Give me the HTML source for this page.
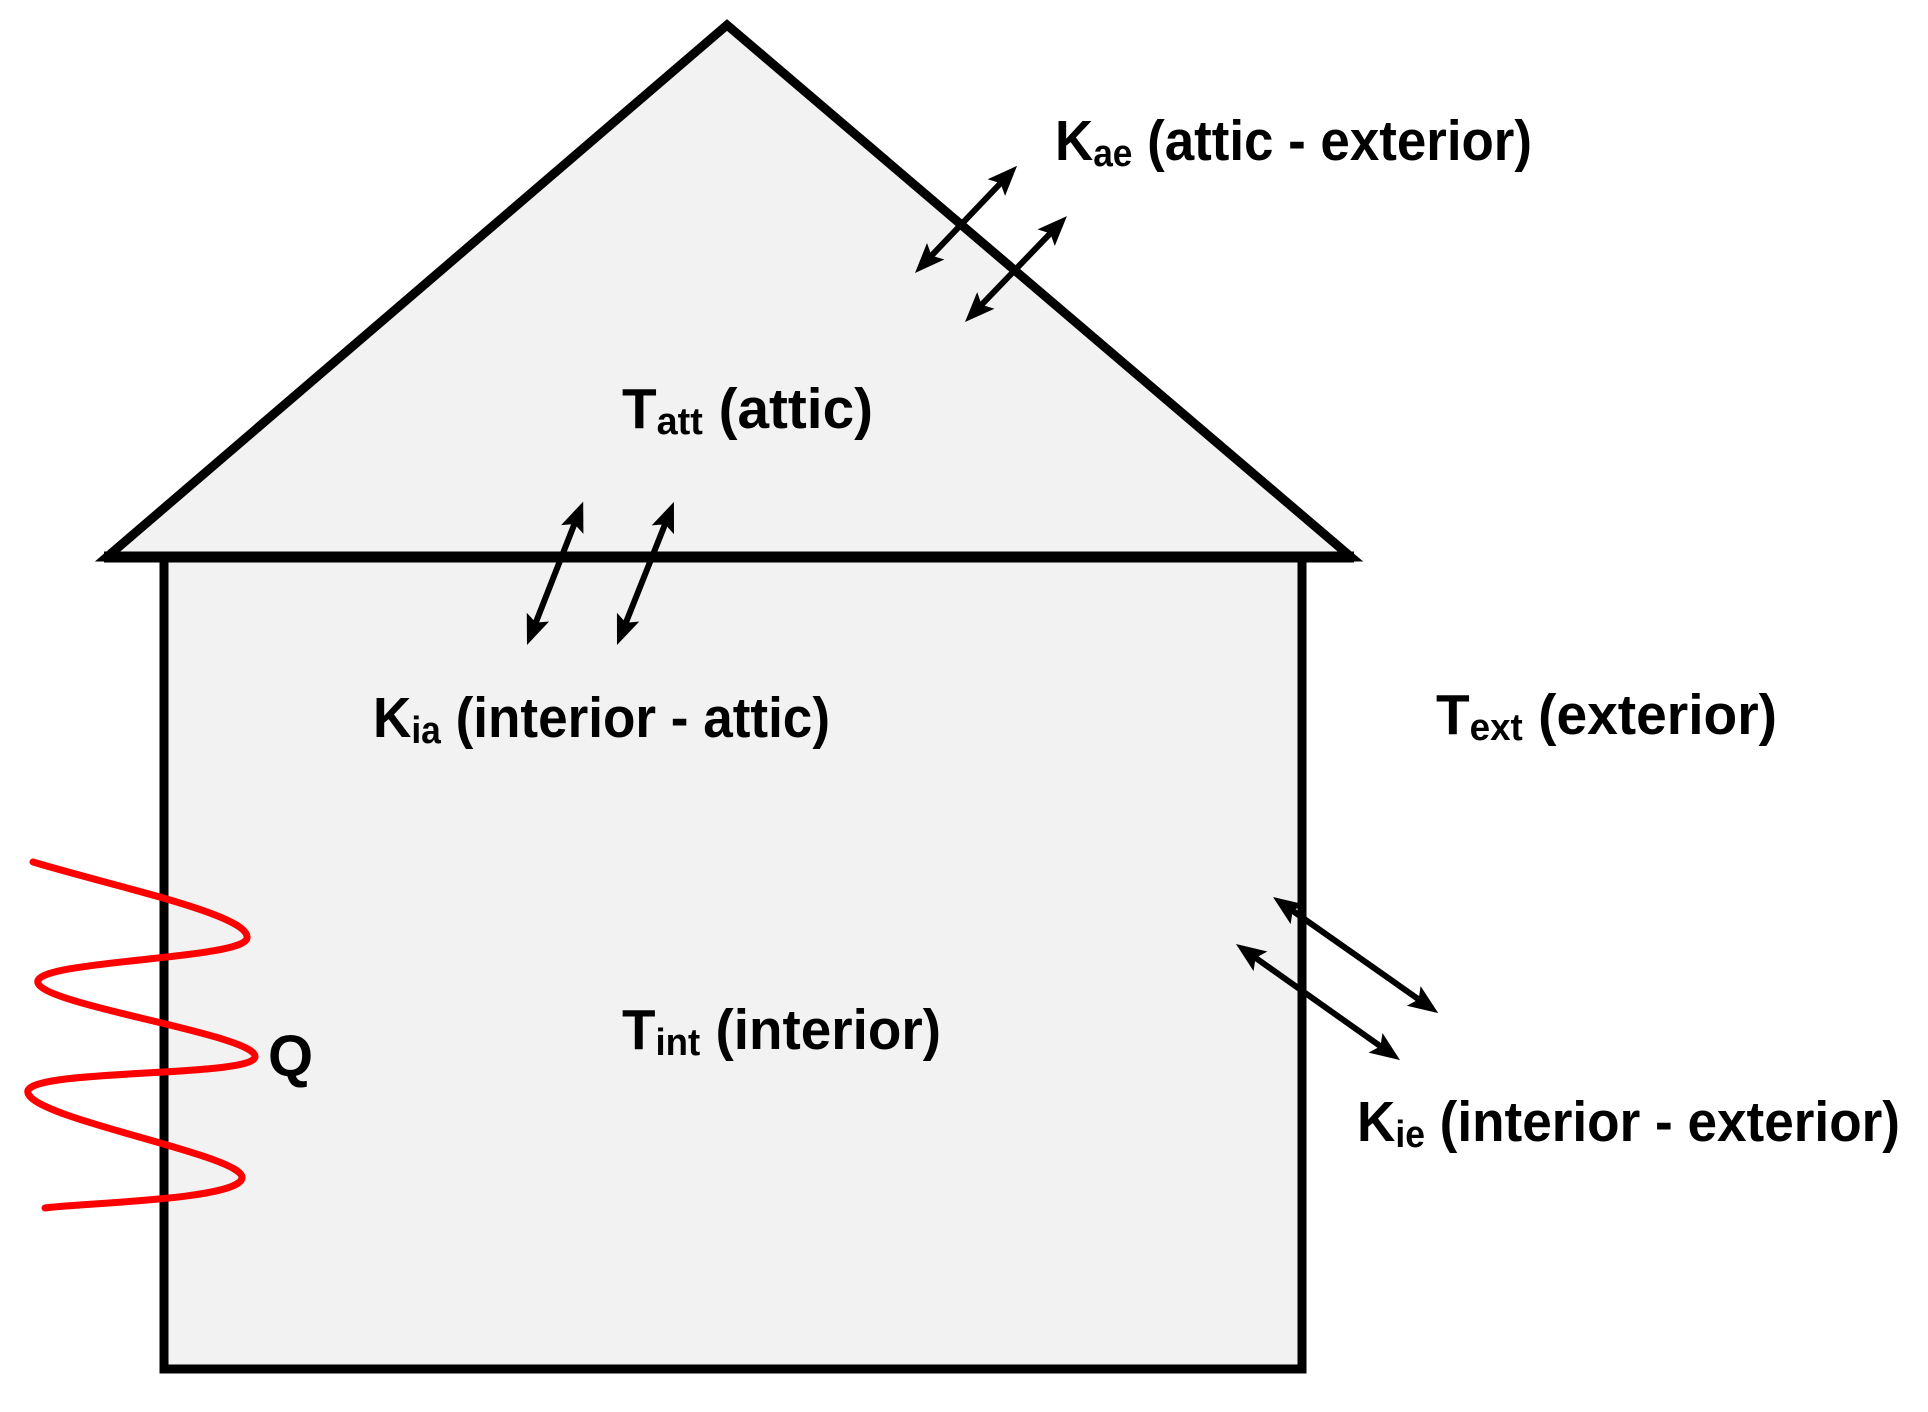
<!DOCTYPE html>
<html><head><meta charset="utf-8"><style>
html,body{margin:0;padding:0;background:#fff}
svg{display:block}
text{font-family:"Liberation Sans",sans-serif;font-weight:bold;fill:#000}
</style></head><body>
<svg width="1928" height="1412" viewBox="0 0 1928 1412" xmlns="http://www.w3.org/2000/svg">
<polygon points="727,25 107,557 1351,557" fill="#f2f2f2" stroke="#000" stroke-width="9" stroke-linejoin="miter"/>
<rect x="164" y="557" width="1138" height="812" fill="#f2f2f2" stroke="#000" stroke-width="9"/>
<line x1="104" y1="557" x2="1354" y2="557" stroke="#000" stroke-width="11"/>

<g fill="#000" stroke="#000">
<g transform="translate(915,273) rotate(-46.4)"><line x1="20" y1="0" x2="128" y2="0" stroke-width="6"/><polygon stroke="none" points="0,0 30,-12 24,0 30,12"/><polygon stroke="none" points="148,0 118,-12 124,0 118,12"/></g>
<g transform="translate(965,322) rotate(-46.1)"><line x1="20" y1="0" x2="127" y2="0" stroke-width="6"/><polygon stroke="none" points="0,0 30,-12 24,0 30,12"/><polygon stroke="none" points="147,0 117,-12 123,0 117,12"/></g>
<g transform="translate(527,645) rotate(-68.6)"><line x1="20" y1="0" x2="134" y2="0" stroke-width="6"/><polygon stroke="none" points="0,0 30,-12 24,0 30,12"/><polygon stroke="none" points="154,0 124,-12 130,0 124,12"/></g>
<g transform="translate(617,645) rotate(-68.3)"><line x1="20" y1="0" x2="134" y2="0" stroke-width="6"/><polygon stroke="none" points="0,0 30,-12 24,0 30,12"/><polygon stroke="none" points="154,0 124,-12 130,0 124,12"/></g>
<g transform="translate(1273,897) rotate(35.1)"><line x1="20" y1="0" x2="182" y2="0" stroke-width="6"/><polygon stroke="none" points="0,0 30,-12 24,0 30,12"/><polygon stroke="none" points="202,0 172,-12 178,0 172,12"/></g>
<g transform="translate(1236,944) rotate(35.3)"><line x1="20" y1="0" x2="181" y2="0" stroke-width="6"/><polygon stroke="none" points="0,0 30,-12 24,0 30,12"/><polygon stroke="none" points="201,0 171,-12 177,0 171,12"/></g>
</g>

<path d="M33,862 C120,888 250,915 247,938 C244,960 30,960 38,983 C46,1006 258,1035 255,1057 C252,1078 20,1068 28,1093 C36,1120 245,1155 242,1178 C239,1200 80,1203 45,1208" fill="none" stroke="#ff0000" stroke-width="7" stroke-linecap="round"/>

<text x="268" y="1076" font-size="58">Q</text>

<text x="1055" y="160" font-size="57" textLength="477" lengthAdjust="spacingAndGlyphs">K<tspan font-size="38" dy="6">ae</tspan><tspan dy="-6"> (attic - exterior)</tspan></text>
<text x="622" y="428" font-size="57" textLength="251" lengthAdjust="spacingAndGlyphs">T<tspan font-size="38" dy="6">att</tspan><tspan dy="-6"> (attic)</tspan></text>
<text x="373" y="737" font-size="57" textLength="457" lengthAdjust="spacingAndGlyphs">K<tspan font-size="38" dy="6">ia</tspan><tspan dy="-6"> (interior - attic)</tspan></text>
<text x="1436" y="734" font-size="57" textLength="341" lengthAdjust="spacingAndGlyphs">T<tspan font-size="38" dy="6">ext</tspan><tspan dy="-6"> (exterior)</tspan></text>
<text x="622" y="1049" font-size="57" textLength="319" lengthAdjust="spacingAndGlyphs">T<tspan font-size="38" dy="6">int</tspan><tspan dy="-6"> (interior)</tspan></text>
<text x="1357" y="1141" font-size="57" textLength="543" lengthAdjust="spacingAndGlyphs">K<tspan font-size="38" dy="6">ie</tspan><tspan dy="-6"> (interior - exterior)</tspan></text>
</svg>
</body></html>
